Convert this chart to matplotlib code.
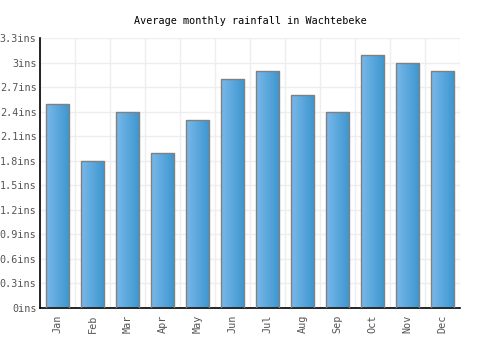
import numpy as np
import matplotlib.pyplot as plt
from matplotlib.colors import LinearSegmentedColormap

# Datos
meses = ['Jan', 'Feb', 'Mar', 'Apr', 'May', 'Jun', 'Jul', 'Aug', 'Sep', 'Oct', 'Nov', 'Dec']
lluvia = [2.5, 1.8, 2.4, 1.9, 2.3, 2.8, 2.9, 2.6, 2.4, 3.1, 3.0, 2.9]
ticks_y = [0, 0.3, 0.6, 0.9, 1.2, 1.5, 1.8, 2.1, 2.4, 2.7, 3.0, 3.3]
etiquetas_y = ['0ins', '0.3ins', '0.6ins', '0.9ins', '1.2ins', '1.5ins', '1.8ins',
               '2.1ins', '2.4ins', '2.7ins', '3ins', '3.3ins']

plt.rcParams['font.family'] = 'DejaVu Sans Mono'

fig = plt.figure(figsize=(5, 3.5), dpi=100)
ax = fig.add_axes([0.08, 0.12, 0.84, 0.771])

x = np.arange(len(meses))
barras = ax.bar(x, lluvia, width=0.68, color='none', edgecolor='#808080', linewidth=1, zorder=3)

# Degradado horizontal en cada barra
cmap = LinearSegmentedColormap.from_list('azul', ['#7ab8ea', '#3b96cf'])
grad = np.linspace(0, 1, 64).reshape(1, -1)
for b in barras:
    x0, y0 = b.get_x(), b.get_y()
    w, h = b.get_width(), b.get_height()
    im = ax.imshow(grad, cmap=cmap, extent=[x0, x0 + w, y0, y0 + h],
                   aspect='auto', zorder=2, interpolation='bicubic')
    im.set_clip_path(b)

ax.set_xlim(-0.5, len(meses) - 0.5)
ax.set_ylim(0, 3.3)
ax.set_xticks(x)
ax.set_xticklabels(meses, rotation=90, fontsize=7.3, color='#555555')
ax.set_yticks(ticks_y)
ax.set_yticklabels(etiquetas_y, fontsize=7.3, color='#555555')
ax.set_xticks(np.arange(-0.5, len(meses), 1), minor=True)
ax.tick_params(axis='x', length=0, pad=5)
ax.tick_params(axis='y', length=0, pad=2.5)
ax.tick_params(axis='x', which='minor', length=0)

ax.grid(True, axis='y', color='#eeeeee', linewidth=1, zorder=0)
ax.grid(True, axis='x', which='minor', color='#eeeeee', linewidth=1, zorder=0)
ax.grid(False, axis='x', which='major')

for lado in ['top', 'right']:
    ax.spines[lado].set_visible(False)
ax.spines['left'].set_linewidth(1.2)
ax.spines['bottom'].set_linewidth(1.2)

ax.set_title('Average monthly rainfall in Wachtebeke', fontsize=7.3, pad=10)

fig.savefig('out.png', dpi=100)
